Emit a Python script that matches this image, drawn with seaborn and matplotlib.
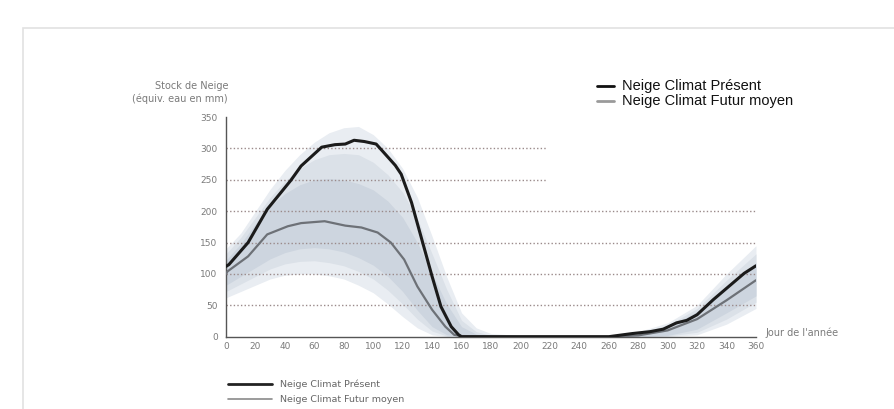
import numpy as np
import pandas as pd
import seaborn as sns
import matplotlib.pyplot as plt
from matplotlib.patches import Rectangle
from matplotlib.lines import Line2D

# --- data ---
days_present = [0, 2, 15, 28, 44, 51, 65, 74, 81, 87, 94, 102, 107, 115, 119, 126, 133,
                140, 146, 153, 158, 160, 200, 260, 276, 288, 297, 306, 313, 320, 331, 343, 352, 360]
snow_present = [112, 115, 150, 203, 249, 272, 302, 306, 307, 313, 311, 307, 294, 273, 259, 214, 155,
                96, 48, 16, 3, 0, 0, 0, 5, 8, 12, 22, 26, 35, 59, 83, 101, 113]

days_future = [0, 1, 15, 28, 42, 51, 67, 81, 92, 103, 112, 121, 130, 140, 149, 155, 160,
               200, 260, 280, 300, 320, 340, 360]
snow_future = [100, 104, 128, 163, 176, 181, 184, 177, 174, 166, 150, 123, 80, 43, 16, 3, 1,
               0, 0, 2, 10, 28, 58, 90]

days_env = [0, 10, 20, 30, 40, 50, 60, 70, 80, 90, 100, 110, 120, 130, 140, 150, 160, 170,
            180, 200, 260, 280, 300, 320, 340, 360]
env_high = [140, 165, 200, 235, 265, 290, 310, 325, 333, 335, 322, 300, 268, 222, 160, 95, 38, 14,
            5, 2, 2, 8, 22, 50, 100, 145]
env_low = [62, 72, 82, 92, 98, 100, 100, 97, 92, 82, 70, 52, 32, 14, 3, 0, 0, 0,
           0, 0, 0, 0, 0, 3, 20, 45]
mid_high = [132, 158, 190, 222, 248, 268, 282, 290, 292, 290, 278, 258, 230, 188, 132, 75, 26, 8,
            2, 1, 1, 6, 18, 45, 90, 132]
mid_low = [72, 84, 96, 108, 116, 120, 121, 118, 113, 104, 92, 74, 52, 28, 9, 1, 0, 0,
           0, 0, 0, 0, 1, 7, 28, 55]
inner_high = [122, 148, 180, 208, 228, 242, 250, 252, 250, 244, 234, 216, 190, 150, 100, 52, 16, 4,
              1, 0, 0, 4, 15, 40, 78, 118]
inner_low = [82, 96, 110, 124, 134, 140, 142, 140, 135, 126, 114, 96, 72, 42, 16, 3, 0, 0,
             0, 0, 0, 0, 2, 12, 38, 65]

grid_levels = [50, 100, 150, 200, 250, 300]
y_ticks = [0, 50, 100, 150, 200, 250, 300, 350]
x_ticks = list(range(0, 361, 20))

label_present = "Neige Climat Présent"
label_future = "Neige Climat Futur moyen"

sns.set_style("white")
plt.rcParams['font.family'] = ['DejaVu Sans']

fig = plt.figure(figsize=(8.94, 4.09), dpi=100)
ax = fig.add_axes([0.2528, 0.1768, 0.5928, 0.537])

# outer frame of the picture
fig.patches.append(Rectangle((23 / 894, -0.1), 1.2, 0.1 + (1 - 28 / 409), transform=fig.transFigure,
                             fill=False, edgecolor="#e2e2e2", linewidth=1.2))

# ensemble spread
ax.fill_between(days_env, env_low, env_high, color="#e9edf2", linewidth=0, zorder=1)
ax.fill_between(days_env, mid_low, mid_high, color="#dbe1e8", linewidth=0, zorder=1.2)
ax.fill_between(days_env, inner_low, inner_high, color="#cdd5df", linewidth=0, zorder=1.5)

# dotted grid
for lvl in grid_levels:
    xmax = 218 if lvl >= 250 else 360
    ax.plot([0, xmax], [lvl, lvl], linestyle=(0, (1, 1.6)), color="#9a8a8a",
            linewidth=1.0, zorder=2)

df_p = pd.DataFrame({"day": days_present, "snow": snow_present})
df_f = pd.DataFrame({"day": days_future, "snow": snow_future})
sns.lineplot(data=df_f, x="day", y="snow", ax=ax, color="#6d7177", linewidth=1.6, zorder=3)
sns.lineplot(data=df_p, x="day", y="snow", ax=ax, color="#1b1b1b", linewidth=2.2, zorder=4)

ax.set_xlim(0, 360)
ax.set_ylim(0, 350)
ax.set_xlabel("")
ax.set_ylabel("")
ax.set_xticks(x_ticks)
ax.set_yticks(y_ticks)
ax.set_xticks(np.arange(0, 361, 5), minor=True)
ax.set_yticks(np.arange(0, 351, 10), minor=True)
for side in ["top", "right"]:
    ax.spines[side].set_visible(False)
for side in ["left", "bottom"]:
    ax.spines[side].set_color("#555555")
    ax.spines[side].set_linewidth(1.0)
ax.tick_params(axis="both", which="major", labelsize=6.5, labelcolor="#7a7a7a",
               color="#555555", length=4, width=0.8, direction="out", pad=2)
ax.tick_params(axis="y", which="minor", color="#555555", length=2.5, width=0.6, direction="out")
ax.tick_params(axis="x", which="minor", color="#555555", length=3, width=0.6, direction="inout")
ax.tick_params(axis="x", which="major", direction="inout", length=4)
ax.patch.set_alpha(0)

# axis titles
fig.text(228 / 894, 1 - 86 / 409, "Stock de Neige", ha="right", va="center",
         fontsize=7, color="#7a7a7a")
fig.text(228 / 894, 1 - 99 / 409, "(équiv. eau en mm)", ha="right", va="center",
         fontsize=7, color="#7a7a7a")
fig.text(765 / 894, 1 - 333 / 409, "Jour de l'année", ha="left", va="center",
         fontsize=7, color="#7a7a7a")

# top legend (large)
fig.lines.append(Line2D([597 / 894, 614 / 894], [1 - 86 / 409] * 2, transform=fig.transFigure,
                        color="#111111", linewidth=2))
fig.lines.append(Line2D([597 / 894, 614 / 894], [1 - 101 / 409] * 2, transform=fig.transFigure,
                        color="#9a9a9a", linewidth=2))
fig.text(622 / 894, 1 - 86 / 409, label_present, ha="left", va="center", fontsize=10.5,
         family=["Liberation Sans", "DejaVu Sans"], color="#111111")
fig.text(622 / 894, 1 - 101 / 409, label_future, ha="left", va="center", fontsize=10.5,
         family=["Liberation Sans", "DejaVu Sans"], color="#111111")

# bottom legend (small)
fig.lines.append(Line2D([228 / 894, 272 / 894], [1 - 384 / 409] * 2, transform=fig.transFigure,
                        color="#222222", linewidth=2))
fig.lines.append(Line2D([228 / 894, 272 / 894], [1 - 399 / 409] * 2, transform=fig.transFigure,
                        color="#8a8a8a", linewidth=1.2))
fig.text(280 / 894, 1 - 384 / 409, label_present, ha="left", va="center", fontsize=6.8,
         color="#666666")
fig.text(280 / 894, 1 - 399 / 409, label_future, ha="left", va="center", fontsize=6.8,
         color="#666666")

fig.savefig("out.png", dpi=100, facecolor="white")
